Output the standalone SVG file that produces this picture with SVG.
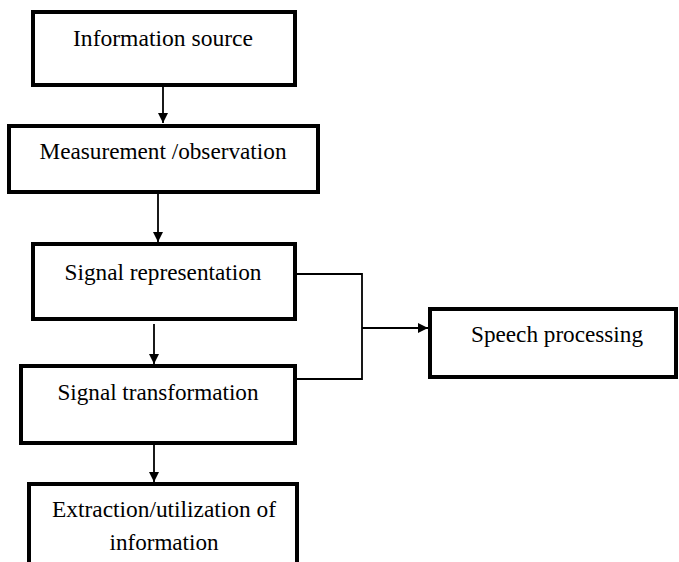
<svg xmlns="http://www.w3.org/2000/svg" width="679" height="562" viewBox="0 0 679 562">
<defs>
<marker id="ah" viewBox="0 0 10 10" refX="10" refY="5" markerWidth="10" markerHeight="10" markerUnits="userSpaceOnUse" orient="auto">
<path d="M0,0 L10,5 L0,10 z" fill="#000"/>
</marker>
<style>
.box{fill:#fff;stroke:#000;stroke-width:4}
.lbl{font-family:'Liberation Serif','Times New Roman',serif;font-size:24px;fill:#000;text-anchor:middle}
.con{fill:none;stroke:#000;stroke-width:1.8}
</style>
</defs>
<rect width="679" height="562" fill="#fff"/>
<g id="connectors">
<line class="con" x1="163" y1="85" x2="163" y2="123" marker-end="url(#ah)"/>
<line class="con" x1="158" y1="193" x2="158" y2="242" marker-end="url(#ah)"/>
<line class="con" x1="154" y1="324" x2="154" y2="364" marker-end="url(#ah)"/>
<line class="con" x1="154" y1="444" x2="154" y2="482" marker-end="url(#ah)"/>
<polyline class="con" points="295,274 362,274 362,379 295,379"/>
<line class="con" x1="362" y1="328" x2="428" y2="328" marker-end="url(#ah)"/>
</g>
<g id="n1"><rect class="box" x="33" y="12" width="262" height="73"/><text class="lbl" x="163" y="46" textLength="180" lengthAdjust="spacingAndGlyphs">Information source</text></g>
<g id="n2"><rect class="box" x="9" y="126" width="309" height="66"/><text class="lbl" x="163" y="159" textLength="247" lengthAdjust="spacingAndGlyphs">Measurement /observation</text></g>
<g id="n3"><rect class="box" x="33" y="244" width="262" height="75"/><text class="lbl" x="163" y="280" textLength="197" lengthAdjust="spacingAndGlyphs">Signal representation</text></g>
<g id="n4"><rect class="box" x="21" y="366" width="274" height="77"/><text class="lbl" x="158" y="400" textLength="201" lengthAdjust="spacingAndGlyphs">Signal transformation</text></g>
<g id="n5"><rect class="box" x="29" y="484" width="268" height="90"/><text class="lbl" x="164" y="517" textLength="224" lengthAdjust="spacingAndGlyphs">Extraction/utilization of</text><text class="lbl" x="164" y="550" textLength="109" lengthAdjust="spacingAndGlyphs">information</text></g>
<g id="n6"><rect class="box" x="430" y="309" width="246" height="68"/><text class="lbl" x="557" y="342" textLength="172" lengthAdjust="spacingAndGlyphs">Speech processing</text></g>
</svg>
